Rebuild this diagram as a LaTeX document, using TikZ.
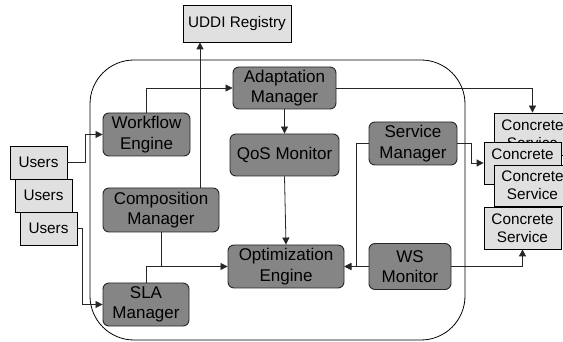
\documentclass[tikz,border=0pt]{standalone}
\usepackage{fontspec}
\setmainfont{Liberation Sans}
\usetikzlibrary{arrows.meta}
\definecolor{boxdark}{HTML}{858585}
\definecolor{boxlight}{HTML}{E0E0E0}
\definecolor{linegray}{HTML}{262626}
\tikzset{
  comp/.style={draw=linegray, line width=0.9pt, fill=boxdark, rounded corners=6pt,
    align=center, inner sep=0pt, font=\fontsize{17}{20.5}\selectfont},
  ext/.style={draw=black, line width=0.8pt, fill=boxlight,
    align=center, inner sep=0pt, font=\fontsize{15.3}{18}\selectfont},
  conn/.style={draw=linegray, line width=0.8pt},
  arr/.style={conn, -{Triangle[length=7pt,width=7pt]}},
}
\begin{document}
\begin{tikzpicture}[x=1pt, y=-1pt]
  \clip (0,0) rectangle (563,342);
  \fill[white] (0,0) rectangle (563,342);

  % middleware boundary
  \draw[line width=0.8pt, rounded corners=44pt] (90,60) rectangle (465,340);

  % outside parties
  \node[ext, minimum width=108pt, minimum height=37pt] (uddi) at (237,23.5) {UDDI Registry};
  \node[ext, minimum width=57pt, minimum height=33pt] (u1) at (38.5,162.5) {Users};
  \node[ext, minimum width=57pt, minimum height=33pt] (u2) at (43.5,195.5) {Users};
  \node[ext, minimum width=57pt, minimum height=33pt] (u3) at (48.5,228.5) {Users};

  % concrete services, stacked
  \node[ext, minimum width=77pt, minimum height=42pt] (csa) at (532.5,134) {Concrete\\Service};
  \node[ext, minimum width=77pt, minimum height=42pt] (csb) at (522.5,163) {Concrete\\Service};
  \node[ext, minimum width=77pt, minimum height=41pt] (csc) at (532.5,185.5) {Concrete\\Service};
  \node[ext, minimum width=77pt, minimum height=42pt] (csd) at (522.5,228) {Concrete\\Service};

  % middleware components
  \node[comp, minimum width=103pt, minimum height=42pt] (adapt) at (284.5,88) {Adaptation\\Manager};
  \node[comp, minimum width=87pt, minimum height=43pt] (wf) at (146.5,134.5) {Workflow\\Engine};
  \node[comp, minimum width=109pt, minimum height=42pt] (qos) at (284.5,155) {QoS Monitor};
  \node[comp, minimum width=88pt, minimum height=43pt] (sm) at (413,143.5) {Service\\Manager};
  \node[comp, minimum width=116pt, minimum height=44pt] (cm) at (161,210) {Composition\\Manager};
  \node[comp, minimum width=116pt, minimum height=43pt] (opt) at (286,266.5) {Optimization\\Engine};
  \node[comp, minimum width=86pt, minimum height=43pt] (sla) at (146,304.5) {SLA\\Manager};
  \node[comp, minimum width=82pt, minimum height=46pt] (wsm) at (410,266.5) {WS\\Monitor};

  % connectors
  \draw[arr] (u1.east) -- ++(18,0) |- (wf.west);
  \draw[arr] (u3.east) -- ++(5,0) |- (sla.west);
  \draw[arr] (wf.north) |- (adapt.west);
  \draw[arr] ([xshift=39pt]cm.north) -- ([xshift=39pt]cm.north |- uddi.south);
  \draw[arr] (adapt.east) -| (csa.north);
  \draw[arr] (adapt.south) -- (qos.north);
  \draw[arr] (qos.south) -- (opt.north);
  \draw[arr] (cm.south) |- (opt.west);
  \draw[conn] (sla.north) |- (cm.south |- opt.west);
  \draw[arr] (sm.west) -- ++(-12,0) |- (opt.east);
  \draw[arr] (wsm.west) -- (opt.east);
  \draw[arr] (sm.east) -- ++(14,0) |- (csb.west);
  \draw[arr] (wsm.east) -| (csd.south);
\end{tikzpicture}
\end{document}
